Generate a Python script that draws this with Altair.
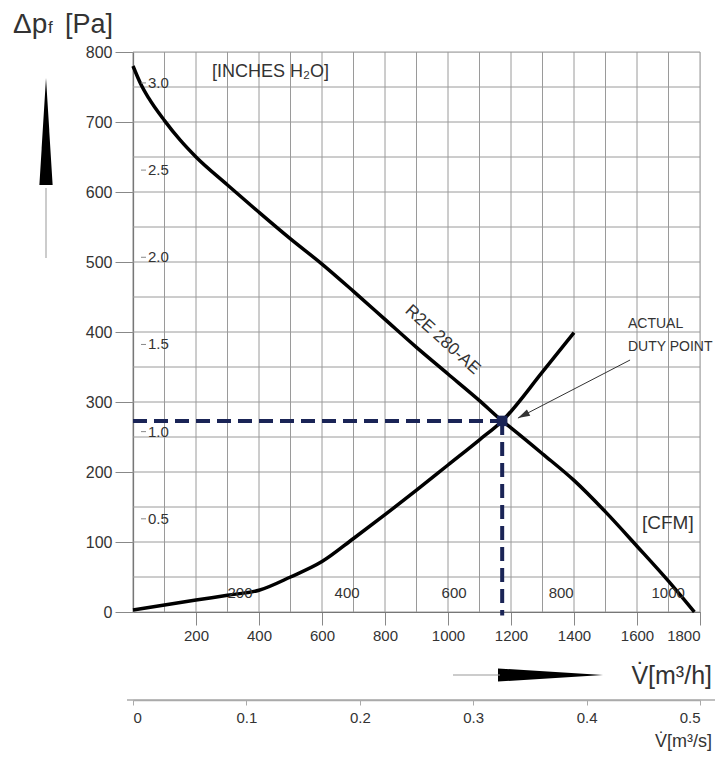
import altair as alt
import pandas as pd

# ---------------- data ----------------
fan_flow = [0, 25, 50, 100, 150, 200, 300, 400, 500, 600, 700, 800, 900, 1000, 1100, 1172,
            1200, 1300, 1400, 1500, 1600, 1700, 1782]
fan_dp = [780, 754, 734, 702, 674, 650, 610, 571, 533, 497, 458, 418, 378, 340, 302, 273,
          263, 226, 188, 143, 94, 44, 0]
sys_flow = [0, 100, 200, 300, 400, 500, 600, 700, 800, 900, 1000, 1100, 1172, 1300, 1400]
sys_dp = [3, 10, 17, 24, 31, 50, 72, 105, 139, 174, 210, 246, 273, 343, 399]
duty_flow = [1172]
duty_dp = [273]

grid_flow = list(range(0, 1801, 100))
grid_dp = list(range(0, 801, 50))
x_tick_values = list(range(200, 1801, 200))
y_tick_values = list(range(0, 801, 100))
inch_values = [0.5, 1.0, 1.5, 2.0, 2.5, 3.0]
inch_labels = ["0.5", "1.0", "1.5", "2.0", "2.5", "3.0"]
cfm_values = [200, 400, 600, 800, 1000]
cfm_labels = ["200", "400", "600", "800", "1000"]
ms_values = [0, 0.1, 0.2, 0.3, 0.4, 0.5]

PA_PER_INCH = 249.09
M3H_PER_CFM = 1.699

FONT = "Liberation Sans"
W, H = 567, 560
NAVY = "#1a2456"
GRID = "#9a9a9a"
TXT = "#333333"

xs = alt.Scale(domain=[0, 1800], nice=False, zero=False)
ys = alt.Scale(domain=[0, 800], nice=False, zero=False)
x_axis = alt.Axis(values=x_tick_values, grid=False, domainColor="#555", domainWidth=1.2,
                  tickColor="#888", tickSize=13, labelPadding=3, labelFontSize=15,
                  labelColor=TXT, labelFont=FONT, format="d", title=None)
y_axis = alt.Axis(values=y_tick_values, grid=False, domainColor="#555", domainWidth=1.2,
                  tickColor="#888", tickSize=18, labelPadding=3, labelFontSize=16,
                  labelColor=TXT, labelFont=FONT, format="d", title=None)


def X(f):
    return alt.X(f"{f}:Q", scale=xs, axis=x_axis)


def Y(f):
    return alt.Y(f"{f}:Q", scale=ys, axis=y_axis)


fan_df = pd.DataFrame({"q": fan_flow, "p": fan_dp})
sys_df = pd.DataFrame({"q": sys_flow, "p": sys_dp})
duty_df = pd.DataFrame({"q": duty_flow, "p": duty_dp, "q0": [0], "p0": [-5]})
gx_df = pd.DataFrame({"q": grid_flow})
gy_df = pd.DataFrame({"p": grid_dp})
inch_df = pd.DataFrame({"p": [v * PA_PER_INCH for v in inch_values], "label": inch_labels})
cfm_df = pd.DataFrame({"q": [v * M3H_PER_CFM for v in cfm_values], "label": cfm_labels})
one = pd.DataFrame({"a": [0]})

grid_x = alt.Chart(gx_df).mark_rule(color=GRID, strokeWidth=1).encode(x=X("q"))
grid_y = alt.Chart(gy_df).mark_rule(color=GRID, strokeWidth=1).encode(y=Y("p"))

dash_h = alt.Chart(duty_df).mark_rule(color=NAVY, strokeWidth=4, strokeDash=[14, 7]).encode(
    x=X("q0"), x2="q", y=Y("p"))
dash_v = alt.Chart(duty_df).mark_rule(color=NAVY, strokeWidth=4, strokeDash=[14, 7]).encode(
    x=X("q"), y=Y("p"), y2="p0")

fan_line = alt.Chart(fan_df).mark_line(color="black", strokeWidth=3.5, interpolate="monotone").encode(
    x=X("q"), y=Y("p"))
sys_line = alt.Chart(sys_df).mark_line(color="black", strokeWidth=3.5, interpolate="monotone").encode(
    x=X("q"), y=Y("p"))
duty_pt = alt.Chart(duty_df).mark_point(shape="square", filled=True, size=110, color=NAVY, opacity=1).encode(
    x=X("q"), y=Y("p"))

inch_txt = alt.Chart(inch_df).mark_text(align="left", baseline="middle", fontSize=15, color=TXT,
                                         font=FONT, dy=-6).encode(
    x=alt.value(15), y=Y("p"), text="label:N")
inch_dash = alt.Chart(inch_df).mark_rule(color="#888", strokeWidth=1).encode(
    x=alt.value(8), x2=alt.value(13), y=Y("p"), yOffset=alt.value(-6))
cfm_txt = alt.Chart(cfm_df).mark_text(align="center", baseline="middle", fontSize=15, color=TXT,
                                       font=FONT).encode(
    x=X("q"), y=alt.value(541), text="label:N")

ann_df = pd.DataFrame({"q": [983], "p": [389], "t": ["R2E 280-AE"]})
model_txt = alt.Chart(ann_df).mark_text(angle=42, fontSize=17, color=TXT, font=FONT,
                                         baseline="middle", align="center").encode(
    x=X("q"), y=Y("p"), text="t:N")

arrow_df = pd.DataFrame({"q": [1578], "p": [360], "q2": [1222], "p2": [277]})
arrow_line = alt.Chart(arrow_df).mark_rule(color="#333", strokeWidth=1).encode(
    x=X("q"), y=Y("p"), x2="q2", y2="p2")
arrow_head = alt.Chart(arrow_df).mark_point(shape="M 0 0 L 1 -0.3 L 1 0.3 Z", filled=True,
                                             size=576, color="#333", angle=332.6, opacity=1).encode(
    x=X("q2"), y=Y("p2"))

duty_lbl_df = pd.DataFrame({"t": ["ACTUAL", "DUTY POINT"], "yy": [272, 295]})
duty_lbl = alt.Chart(duty_lbl_df).mark_text(align="left", baseline="middle", fontSize=14,
                                             color=TXT, font=FONT).encode(
    x=alt.value(495), y=alt.Y("yy:Q", scale=None), text="t:N")


def label(text, x, y, size, align="left", baseline="middle", color=TXT):
    return alt.Chart(one).mark_text(text=text, align=align, baseline=baseline, fontSize=size,
                                    color=color, font=FONT).encode(
        x=alt.value(x), y=alt.value(y))


inches_lbl = label("[INCHES H\u2082O]", 79, 20, 18)
cfm_unit = label("[CFM]", 509, 471, 19)
ytitle1 = label("\u0394p", -120, -19, 28, baseline="alphabetic")
ytitle2 = label("f", -85, -19, 17, baseline="alphabetic")
ytitle3 = label("[Pa]", -68, -19, 27, baseline="alphabetic")
xtitle = label("V\u0307[m\u00b3/h]", 579, 624, 25, align="right")
xtitle2 = label("V\u0307[m\u00b3/s]", 579, 690, 18, align="right")

h_wedge = alt.Chart(one).mark_point(shape="M 0 0 L -1 -0.062 L -1 0.062 Z", filled=True,
                                     size=44100, color="black", opacity=1).encode(
    x=alt.value(470), y=alt.value(623))
h_thin = alt.Chart(one).mark_rule(color="#999", strokeWidth=1).encode(
    x=alt.value(320), x2=alt.value(367), y=alt.value(623))
v_wedge = alt.Chart(one).mark_point(shape="M 0 0 L -0.062 1 L 0.062 1 Z", filled=True,
                                     size=45796, color="black", opacity=1).encode(
    x=alt.value(-87), y=alt.value(26))
v_thin = alt.Chart(one).mark_rule(color="#999", strokeWidth=1).encode(
    x=alt.value(-87), y=alt.value(136), y2=alt.value(206))
ms_line = alt.Chart(one).mark_rule(color="#aaa", strokeWidth=1.5).encode(
    x=alt.value(-6), x2=alt.value(583), y=alt.value(648))

main = alt.layer(grid_x, grid_y, dash_h, dash_v, fan_line, sys_line, duty_pt,
                 inch_dash, inch_txt, cfm_txt, model_txt, arrow_line, arrow_head, duty_lbl,
                 inches_lbl, cfm_unit, ytitle1, ytitle2, ytitle3, xtitle, xtitle2,
                 h_wedge, h_thin, v_wedge, v_thin, ms_line)

ms_df = pd.DataFrame({"ms": ms_values})
ms_layer = alt.Chart(ms_df).mark_tick(opacity=0).encode(
    x=alt.X("ms:Q", scale=alt.Scale(domain=[0, 0.5], nice=False, zero=False),
            axis=alt.Axis(orient="bottom", offset=88, values=ms_values,
                          labelExpr="datum.value == 0 ? '0' : format(datum.value, '.1f')",
                          grid=False, domainColor="#aaa", domainWidth=1.5, tickColor="#aaa",
                          tickSize=5, labelPadding=5, labelFontSize=15, labelColor=TXT,
                          labelFont=FONT, title=None))
)

chart = alt.layer(main, ms_layer).resolve_scale(x="independent").resolve_axis(x="independent").properties(
    width=W, height=H, autosize="none",
    padding={"left": 125, "top": 44, "right": 15, "bottom": 142},
).configure_view(stroke=None).configure(font=FONT)

chart.save("out.html", embed_options={"renderer": "svg", "actions": False})
